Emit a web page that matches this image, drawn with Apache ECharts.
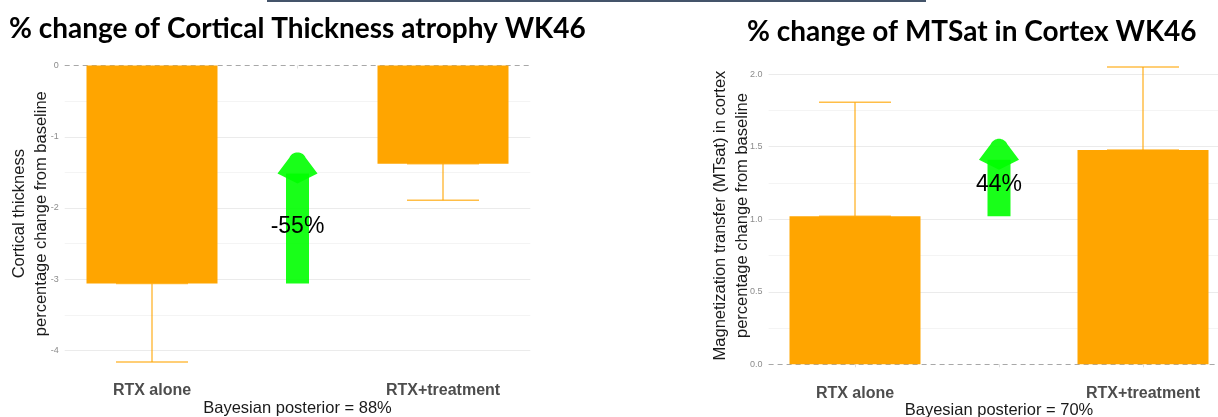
<!DOCTYPE html>
<html><head><meta charset="utf-8">
<script src="https://cdn.jsdelivr.net/npm/echarts@6/dist/echarts.min.js"></script>
<style>html,body{margin:0;padding:0;background:#fff}#c{width:1218px;height:417px}</style>
</head><body><div id="c"></div>
<script>
// ---- shared ----
const categories = ['RTX alone', '', 'RTX+treatment'];
const barPositions = [1, 3];
const arrowPosition = 2;
const xTickPositions = [1, 2, 3];

// ---- left panel: cortical thickness ----
const thicknessTitle = '% change of Cortical Thickness atrophy WK46';
const thicknessYName = 'Cortical thickness\npercentage change from baseline';
const thicknessXName = 'Bayesian posterior = 88%';
const thicknessMean = [-3.06, -1.38];
const thicknessErrEnd = [-4.16, -1.89];
const thicknessArrow = [-3.06, -1.22];   // start value, tip value
const thicknessArrowText = '-55%';
const thicknessArrowTextY = -2.26;
const thicknessTicks = [0, -1, -2, -3, -4];
const thicknessMinor = [-0.5, -1.5, -2.5, -3.5];
const thicknessRange = [-4.368, 0.208];

// ---- right panel: MTsat ----
const mtsatTitle = '% change of MTSat in Cortex WK46';
const mtsatYName = 'Magnetization transfer (MTsat) in cortex\npercentage change from baseline';
const mtsatXName = 'Bayesian posterior = 70%';
const mtsatMean = [1.02, 1.476];
const mtsatErrEnd = [1.805, 2.048];
const mtsatArrow = [1.02, 1.554];
const mtsatArrowText = '44%';
const mtsatArrowTextY = 1.237;
const mtsatTicks = [0, 0.5, 1.0, 1.5, 2.0];
const mtsatMinor = [0.25, 0.75, 1.25, 1.75];
const mtsatRange = [-0.1025, 2.1525];

const ORANGE = '#FFA500';
const FONT = '"Liberation Sans", Arial, Helvetica, sans-serif';
const TITLE_FONT = 'Lato, "Open Sans", sans-serif';

function errorRender(params, api) {
  const x = api.value(0);
  const p1 = api.coord([x, api.value(1)]);
  const p2 = api.coord([x, api.value(2)]);
  const hw = 36;
  const style = { stroke: 'rgba(255,165,0,0.72)', lineWidth: 1.5 };
  return { type: 'group', children: [
    { type: 'line', shape: { x1: p1[0], y1: p1[1], x2: p2[0], y2: p2[1] }, style },
    { type: 'line', shape: { x1: p1[0] - hw, y1: p1[1], x2: p1[0] + hw, y2: p1[1] }, style },
    { type: 'line', shape: { x1: p2[0] - hw, y1: p2[1], x2: p2[0] + hw, y2: p2[1] }, style }
  ]};
}

function makeArrowRender(text) {
  return function (params, api) {
    const x = api.value(0);
    const pStart = api.coord([x, api.value(1)]);
    const pTip = api.coord([x, api.value(2)]);
    const pText = api.coord([x, api.value(3)]);
    const cx = pStart[0];
    const ty = pTip[1];
    const headH = 21, notch = 31, headHW = 20, shaftHW = 11.5, r = 9;
    const fill = 'rgba(0,255,0,0.9)';
    const pts = [[cx - headHW, ty + headH]];
    const cy = ty + r;
    for (let i = 0; i <= 16; i++) {
      const th = (155 - i * (130 / 16)) * Math.PI / 180;
      pts.push([cx + r * Math.cos(th), cy - r * Math.sin(th)]);
    }
    pts.push([cx + headHW, ty + headH]);
    pts.push([cx, ty + notch]);
    return { type: 'group', children: [
      { type: 'rect', shape: { x: cx - shaftHW, y: ty + headH, width: shaftHW * 2, height: pStart[1] - (ty + headH) }, style: { fill } },
      { type: 'polygon', shape: { points: pts }, style: { fill } },
      { type: 'text', x: pText[0], y: pText[1], style: { text, fill: '#000', font: '23px ' + FONT, align: 'center', verticalAlign: 'middle' } }
    ]};
  };
}

function gridLines(major, minor) {
  const d = [];
  minor.forEach(v => d.push({ yAxis: v, lineStyle: { color: '#f4f4f4', width: 1, type: 'solid' } }));
  major.forEach(v => { if (v !== 0) d.push({ yAxis: v, lineStyle: { color: '#ebebeb', width: 1, type: 'solid' } }); });
  d.push({ yAxis: 0, lineStyle: { color: '#a8a8a8', width: 1, type: [5, 4] } });
  return { silent: true, symbol: 'none', z: 1, label: { show: false }, data: d, animation: false };
}

function panelSeries(idx, mean, errEnd, arrow, arrowText, arrowTextY, major, minor) {
  return [
    { type: 'bar', xAxisIndex: idx, yAxisIndex: idx, barWidth: 131, z: 2,
      itemStyle: { color: ORANGE },
      data: barPositions.map((p, i) => [p, mean[i]]),
      markLine: gridLines(major, minor) },
    { type: 'custom', xAxisIndex: idx, yAxisIndex: idx, z: 3,
      renderItem: errorRender, encode: { x: 0, y: [1, 2] },
      data: barPositions.map((p, i) => [p, mean[i], errEnd[i]]) },
    { type: 'custom', xAxisIndex: idx, yAxisIndex: idx, z: 4,
      renderItem: makeArrowRender(arrowText), encode: { x: 0, y: [1, 2] },
      data: [[arrowPosition, arrow[0], arrow[1], arrowTextY]] }
  ];
}

function xAxis(idx, name) {
  return { type: 'value', gridIndex: idx, min: 0.4, max: 3.6,
    axisLine: { show: false }, splitLine: { show: false },
    axisTick: { show: true, customValues: xTickPositions, length: 3, lineStyle: { color: '#dddddd' } },
    axisLabel: { customValues: barPositions, formatter: v => categories[Math.round(v) - 1],
      fontFamily: FONT, fontSize: 16, fontWeight: 'bold', color: '#4d4d4d', margin: 6 },
    name, nameLocation: 'middle', nameGap: 23, nameMoveOverlap: false,
    nameTextStyle: { fontFamily: FONT, fontSize: 16.5, color: '#1a1a1a', verticalAlign: 'top' } };
}

function yAxis(idx, range, ticks, name, gap, fmt) {
  return { type: 'value', gridIndex: idx, min: range[0], max: range[1],
    axisLine: { show: false }, axisTick: { show: false }, splitLine: { show: false },
    axisLabel: { customValues: ticks, formatter: fmt, fontFamily: FONT, fontSize: 9, color: '#8c8c8c', margin: 6 },
    name, nameLocation: 'middle', nameRotate: 90, nameGap: gap, nameMoveOverlap: false,
    nameTextStyle: { fontFamily: FONT, fontSize: 16.5, color: '#1a1a1a', lineHeight: 22, align: 'center' } };
}

const chart = echarts.init(document.getElementById('c'), null, { renderer: 'canvas' });
chart.setOption({
  animation: false,
  backgroundColor: '#ffffff',
  title: [
    { text: thicknessTitle, left: 9, top: 15, padding: 0,
      textStyle: { fontFamily: TITLE_FONT, fontWeight: 'bold', fontSize: 28, color: '#000' } },
    { text: mtsatTitle, left: 747, top: 18, padding: 0,
      textStyle: { fontFamily: TITLE_FONT, fontWeight: 'bold', fontSize: 28, color: '#000' } }
  ],
  graphic: [
    { type: 'rect', shape: { x: 267, y: 0, width: 659, height: 2 }, style: { fill: '#44546a' } }
  ],
  grid: [
    { left: 64.7, width: 465.6, top: 50.7, height: 326, outerBoundsMode: 'none', containLabel: false },
    { left: 768.6, width: 460.8, top: 51.9, height: 327.3, outerBoundsMode: 'none', containLabel: false }
  ],
  xAxis: [ xAxis(0, thicknessXName), xAxis(1, mtsatXName) ],
  yAxis: [
    yAxis(0, thicknessRange, thicknessTicks, thicknessYName, 12, v => String(Math.round(v))),
    yAxis(1, mtsatRange, mtsatTicks, mtsatYName, 15.6, v => v.toFixed(1))
  ],
  series: [
    ...panelSeries(0, thicknessMean, thicknessErrEnd, thicknessArrow, thicknessArrowText, thicknessArrowTextY, thicknessTicks, thicknessMinor),
    ...panelSeries(1, mtsatMean, mtsatErrEnd, mtsatArrow, mtsatArrowText, mtsatArrowTextY, mtsatTicks, mtsatMinor)
  ]
});
</script></body></html>
